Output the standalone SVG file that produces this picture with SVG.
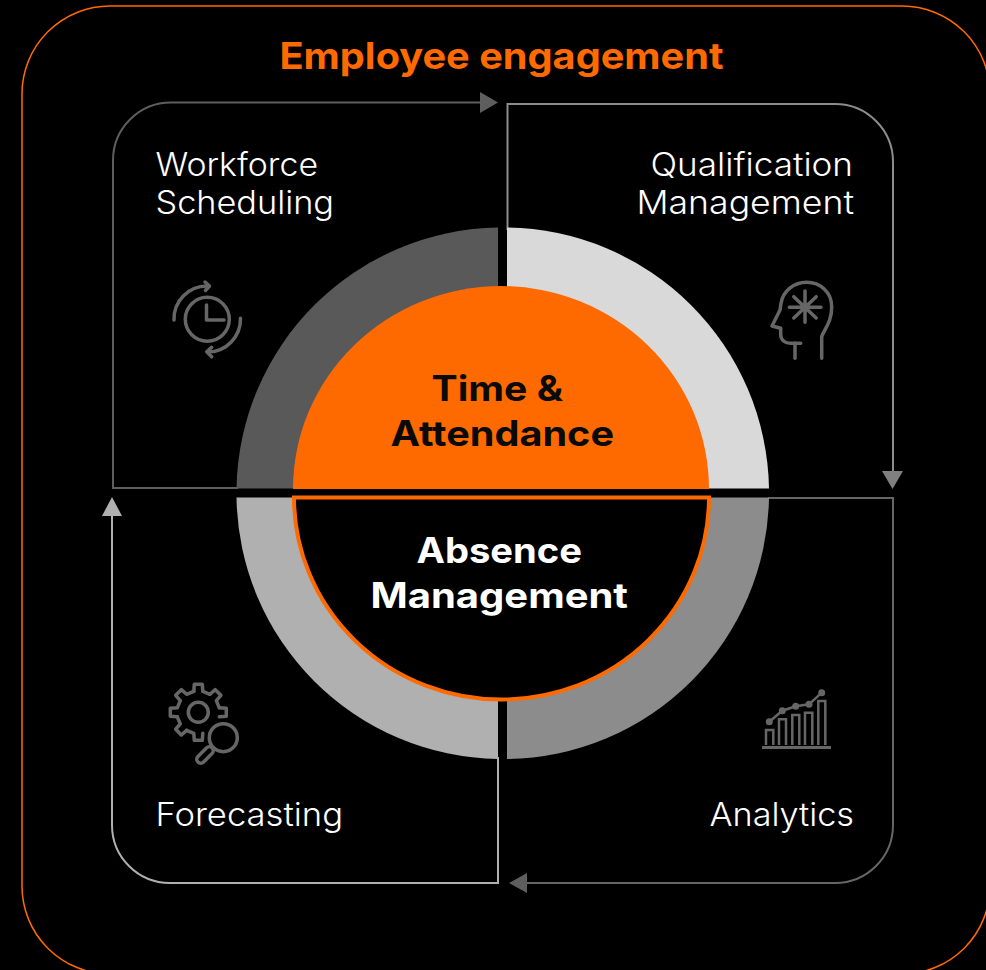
<svg xmlns="http://www.w3.org/2000/svg" xmlns:xlink="http://www.w3.org/1999/xlink" width="986" height="970" viewBox="0 0 986 970">
<style>
text{font-family:"Inter","Liberation Sans",sans-serif}
.lab{font-size:32px;font-weight:300;fill:#fff}
.hub{font-size:35px;font-weight:700}
.ic{fill:none;stroke-width:3.500;stroke-linecap:round;stroke-linejoin:round}
.ln{fill:none;stroke-width:2}
</style>
<defs>
<path id="tooth" d="M-4.5,-21L-4,-28H4L4.5,-21L11.67,-18.03"/>
<path id="toothEnd" d="M-4.5,-21L-4,-28H4L4.5,-21"/>
</defs>
<rect width="986" height="970" fill="#000"/>
<rect x="22" y="6" width="968" height="968" rx="88" fill="none" stroke="#ff6a00" stroke-width="1.500"/>
<text x="279.500" y="69" font-size="37" font-weight="700" fill="#ff6a00" textLength="444" lengthAdjust="spacingAndGlyphs">Employee engagement</text>

<g id="connectors">
<path class="ln" stroke="#5e5e5e" d="M482,102.500H171A58,58 0 0 0 113,160.500V488H238"/>
<polygon fill="#5e5e5e" points="480,92 498,102.500 480,113"/>
<path class="ln" stroke="#8c8c8c" d="M507.500,230V104H835A58,58 0 0 1 893,162V474"/>
<polygon fill="#808080" points="882,471 903,471 892.500,489"/>
<path class="ln" stroke="#666" d="M768,498H893V825A58,58 0 0 1 835,883H525"/>
<polygon fill="#5e5e5e" points="527,873 527,893 509,883"/>
<path class="ln" stroke="#b0b0b0" d="M498,757V883H170A58,58 0 0 1 112,825V514"/>
<polygon fill="#b0b0b0" points="102,516 122,516 112,497"/>
</g>

<g id="ring">
<path fill="#595959" d="M498,488.500V227.500A265.500,265.500 0 0 0 236.500,488.500Z"/>
<path fill="#d9d9d9" d="M507,488.500V227.500A265.500,265.500 0 0 1 769,488.500Z"/>
<path fill="#8c8c8c" d="M507,497.500V759A265.500,265.500 0 0 0 769,497.500Z"/>
<path fill="#b0b0b0" d="M498,497.500V759A265.500,265.500 0 0 1 236.500,497.500Z"/>
</g>

<g id="time-attendance">
<path fill="#ff6a00" d="M293,489A208,203 0 0 1 709,489Z"/>
<text class="hub" x="431.500" y="401" fill="#0a0a0a" textLength="131.500" lengthAdjust="spacingAndGlyphs">Time &amp;</text>
<text class="hub" x="390.500" y="446" fill="#0a0a0a" textLength="223.500" lengthAdjust="spacingAndGlyphs">Attendance</text>
</g>
<g id="absence-management">
<path fill="#000" stroke="#ff6a00" stroke-width="4" d="M294,497.500H709A207.500,202 0 0 1 294,497.500Z"/>
<text class="hub" x="416.500" y="563" fill="#fff" textLength="165.500" lengthAdjust="spacingAndGlyphs">Absence</text>
<text class="hub" x="370.500" y="608" fill="#fff" textLength="257.500" lengthAdjust="spacingAndGlyphs">Management</text>
</g>

<g id="workforce-scheduling">
<text class="lab" x="155.500" y="176" textLength="162.500" lengthAdjust="spacingAndGlyphs">Workforce</text>
<text class="lab" x="155.500" y="214" textLength="178.500" lengthAdjust="spacingAndGlyphs">Scheduling</text>
<g class="ic" stroke="#666">
<circle cx="207.300" cy="319.300" r="22"/>
<path d="M206.500,305V320H224"/>
<path d="M174,320A33,33 0 0 1 207,286"/>
<path d="M205,282L209.500,286L205.500,290.500"/>
<path d="M240.500,318.300A33,33 0 0 1 208,352"/>
<path d="M211.700,347.300L206.700,351.700L211.700,356.700"/>
</g>
</g>

<g id="qualification-management">
<text class="lab" x="650.500" y="176" textLength="202.500" lengthAdjust="spacingAndGlyphs">Qualification</text>
<text class="lab" x="636.500" y="214" textLength="217.500" lengthAdjust="spacingAndGlyphs">Management</text>
<g class="ic" stroke="#666">
<path d="M821.700,358.300V336.700C825,328 831.700,322 831.700,306.700C831.700,292 820,282.300 806.700,282.300C794,282.300 783,291 781,303.300L780,310L772,326L780.700,328.300V335C781,340 785,343.300 790,343.300H800.700"/>
<path d="M795,343.300V358.300"/>
<path d="M789.300,307.300H821M805,291V322.300M793.800,296.700L816.200,318M816.200,296.700L793.800,318"/>
</g>
</g>

<g id="forecasting">
<text class="lab" x="155.500" y="826" textLength="187.500" lengthAdjust="spacingAndGlyphs">Forecasting</text>
<g class="ic" stroke="#666">
<g transform="translate(198.300,712.300)">
<use xlink:href="#tooth" href="#tooth"/>
<use xlink:href="#tooth" href="#tooth" transform="rotate(45)"/>
<use xlink:href="#toothEnd" href="#toothEnd" transform="rotate(90)"/>
<use xlink:href="#tooth" href="#tooth" transform="rotate(180)"/>
<use xlink:href="#tooth" href="#tooth" transform="rotate(225)"/>
<use xlink:href="#tooth" href="#tooth" transform="rotate(270)"/>
<use xlink:href="#tooth" href="#tooth" transform="rotate(315)"/>
<circle r="10"/>
</g>
<circle cx="223.300" cy="737.700" r="14"/>
<rect x="195" y="751" width="20" height="8" rx="4" transform="rotate(-45 205 755)"/>
</g>
</g>

<g id="analytics">
<text class="lab" x="709.500" y="826" textLength="144.500" lengthAdjust="spacingAndGlyphs">Analytics</text>
<path d="M762,747.500H831" fill="none" stroke="#666" stroke-width="3"/>
<path d="M766,745V730H773.300V745M779,745V719.300H786V745M792.300,745V715H799.300V745M805,745V712.700H812.300V745M818.300,745V701H825.300V745" fill="none" stroke="#666" stroke-width="2.500"/>
<path d="M769.300,721.700L782.300,710.700L795.700,706.300L809,704.300L821.700,692.700" fill="none" stroke="#666" stroke-width="2.500"/>
<g fill="#666"><circle cx="769.300" cy="721.700" r="3.500"/><circle cx="782.300" cy="710.700" r="3.500"/><circle cx="795.700" cy="706.300" r="3.500"/><circle cx="809" cy="704.300" r="3.500"/><circle cx="821.700" cy="692.700" r="3.500"/></g>
</g>
</svg>
